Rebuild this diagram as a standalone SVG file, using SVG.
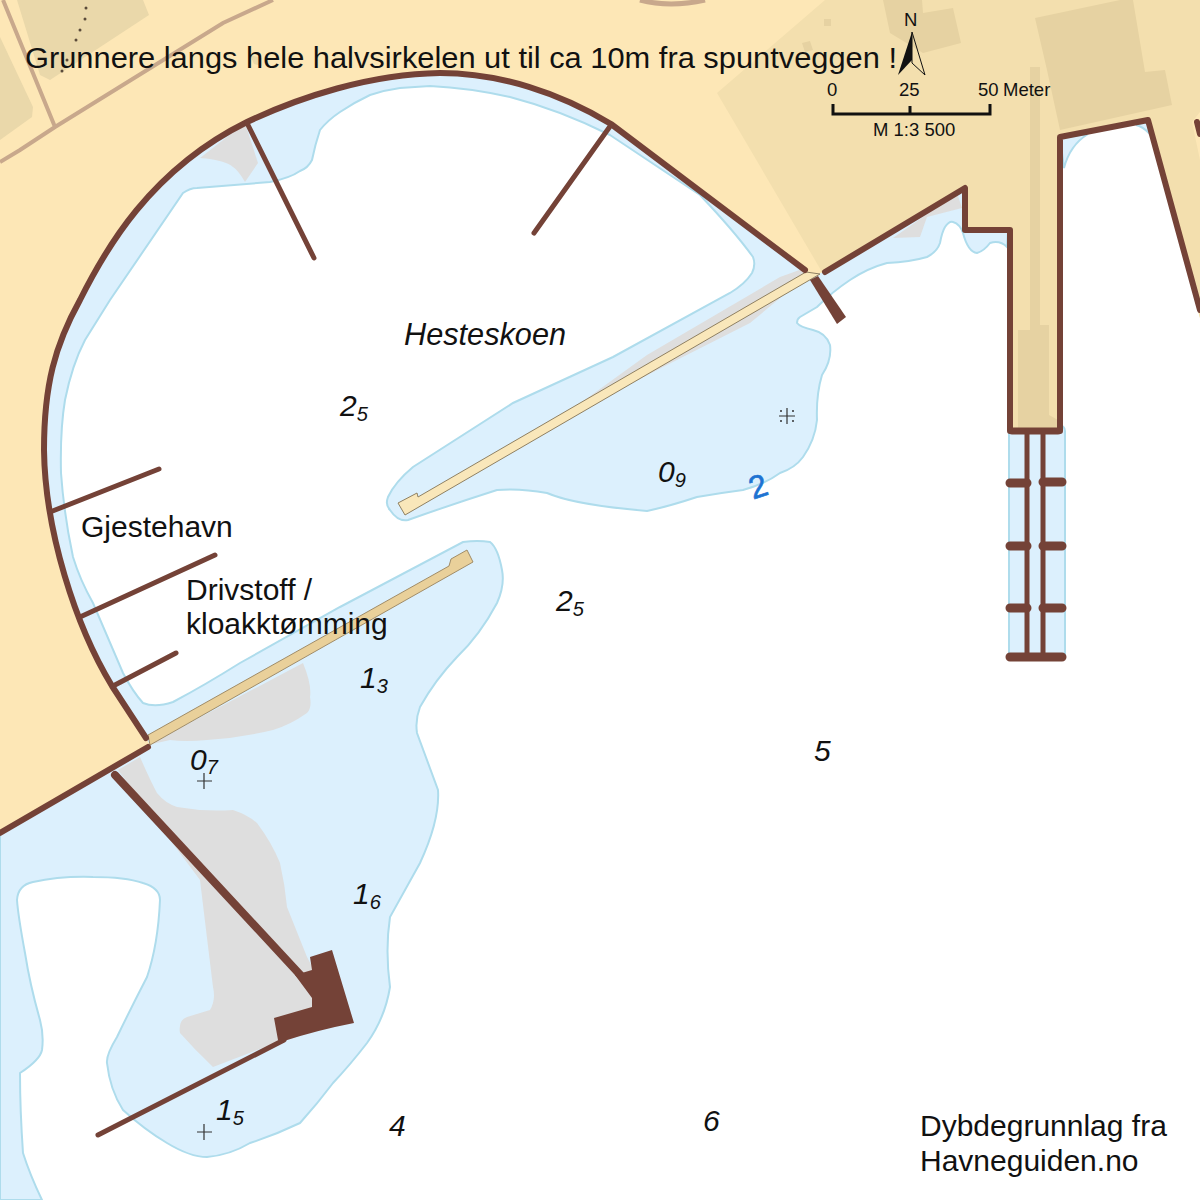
<svg xmlns="http://www.w3.org/2000/svg" width="1200" height="1200" viewBox="0 0 1200 1200">
<style>
text{font-family:"Liberation Sans",Arial,sans-serif;fill:#111}
.i{font-style:italic;font-size:30px}
.s{font-style:italic;font-size:20px}
.l{font-size:30px}
.m{font-size:18.5px}
.w{fill:none;stroke:#744237;stroke-linecap:round;stroke-linejoin:round}
.sh{fill:#dcf0fd;stroke:#aedcec;stroke-width:2}
.g{fill:#dedede}
.b{fill:#e6d2a2}
.d{fill:#5b4b3a}
</style>
<rect width="1200" height="1200" fill="#fff"/>
<!-- shallow water -->
<path class="sh" d="M0 700L0 1200L42 1200Q30 1175 23 1153Q20 1110 20 1073Q40 1060 42 1050Q44 1035 40 1020Q30 985 25 953Q18 915 17 900Q18 885 33 882Q60 876 93 877Q125 877 143 883Q160 888 160 900Q158 945 147 977Q130 1010 117 1037Q106 1055 107 1063Q110 1090 123 1110Q145 1130 167 1143Q190 1157 207 1157Q230 1155 250 1143Q275 1135 300 1123Q318 1103 333 1083Q350 1065 367 1043Q385 1018 390 987Q385 950 390 917Q405 890 420 863Q440 820 438 790Q425 755 417 733Q415 720 420 707Q435 680 457 657Q480 635 497 603Q505 585 502 570Q498 548 490 542Q478 540 463 542L340 607L240 663Q205 685 173 702Q155 708 143 703Q133 692 123 673L93 603Q80 580 73 557Q64 515 61 473Q60 430 65 400Q72 365 85 340L110 300L183 193Q190 188 197 188L270 182Q290 178 300 171Q308 168 312 160Q315 145 320 130Q328 120 340 112Q355 102 370 95Q385 90 400 88L430 86Q470 88 510 97Q560 110 610 135L700 195Q735 232 753 257Q756 265 752 273Q745 284 730 293L613 357L513 403L413 467Q395 482 388 497Q385 505 390 510Q398 522 408 520Q450 505 497 490Q520 488 547 493Q575 505 647 511Q670 506 697 497Q720 493 743 490Q765 484 780 473Q795 468 803 457Q815 440 817 420Q816 395 822 375Q832 360 830 345Q826 333 813 330Q800 327 797 323Q797 319 800 317L817 307Q832 292 850 280Q868 268 887 263Q910 262 927 257Q937 252 940 243Q942 232 945 227Q949 221 953 222Q960 224 963 233Q968 252 977 253Q984 251 990 243Q1000 240 1007 247L1010 200L400 50L100 100L0 300Z"/>
<rect class="sh" x="1009" y="425" width="56" height="235" rx="6"/>
<path class="sh" d="M1060 138L1088 134Q1070 145 1064 168Z"/>
<path class="sh" d="M1136 125L1147 122L1150 134Q1142 126 1136 125Z"/>
<!-- land -->
<path fill="#fde7b6" d="M0 0H1200V318L1148 120L1060 137V431H1010V231H965V188L825 272L808 276L805 270L611 124C560 93 500 73 440 73C370 74 300 97 247 122C150 170 105 250 80 300C55 345 44 385 44 450C45 530 75 625 112 686L146 738L150 745L0 833Z"/>
<path fill="#f3dfae" d="M717 93L825 0H1200V112L1192 122L1200 160V318L1148 120L1060 137V431H1010V231H965V188L822 272Z"/>
<path class="b" d="M883 0H922L923 13L953 8L961 43L923 53L890 33ZM1035 18L1120 0H1133L1145 72L1165 70L1172 105L1060 130L1047 70ZM1030 67H1040V325H1049V415L1058 420V430H1018V330H1030Z"/>
<path fill="#ead8aa" d="M17 0H143L149 15L50 80L40 75ZM0 37L33 107L32 117L0 140Z"/>
<path class="b" d="M824 19L831 19L831 26L824 26ZM802 43L810 41L813 50L805 52Z"/>
<path fill="#ead8aa" d="M250 55L262 58L262 66L254 64Z"/>
<!-- roads -->
<path fill="none" stroke="#c8a88c" stroke-width="4" d="M0 162L20 150L55 127L223 23L273 0M3 0L55 127"/>
<path fill="none" stroke="#c8a88c" stroke-width="5" d="M640 0Q670 8 705 0"/>
<circle class="d" cx="86" cy="8" r="1.5"/><circle class="d" cx="85" cy="19" r="1.5"/><circle class="d" cx="80" cy="30" r="1.5"/><circle class="d" cx="76" cy="40" r="1.5"/><circle class="d" cx="67" cy="60" r="1.5"/><circle class="d" cx="62" cy="71" r="1.5"/>
<!-- gray shoals -->
<path class="g" d="M200 158L245 123L258 163L245 182Q238 170 233 167Q225 160 200 158Z"/>
<path class="g" d="M575 407L647 355L780 277L805 268L808 275L750 323L663 367L613 393Z"/>
<path class="g" d="M148 745L303 663Q312 685 310 697Q312 708 307 713Q290 725 273 730Q240 738 207 740Q185 742 170 740Z"/>
<path class="g" d="M118 770L140 757Q150 780 157 793Q165 803 177 807Q205 812 233 810Q248 815 257 823Q272 843 280 863Q285 885 287 907Q297 932 307 957L330 1000L283 1040L213 1067Q195 1050 180 1033Q178 1020 187 1017L210 1010Q216 1000 213 987Q206 930 200 880Z"/>
<path class="g" d="M893 238L957 193L962 208L927 217L920 237Z"/>
<!-- piers -->
<path fill="#f9e7ba" stroke="#8f8062" stroke-width="1" d="M806 272L418 497L417 493L398 503L405 515L820 274Z"/>
<path fill="#e9d09a" stroke="#a08c68" stroke-width="1" d="M148 735L449 566L451 559L467 550L473 562L150 745Z"/>
<!-- walls -->
<g id="walls">
<path class="w" stroke-width="6" d="M0 833L148 747M146 738L112 686C75 625 45 530 44 450C44 385 55 345 80 300C105 250 150 170 247 122C300 97 370 74 440 73C500 73 560 93 611 124L805 270"/>
<path class="w" stroke-width="5" d="M247 123L314 258M611 125L534 233M50 512L159 469M80 617L215 555M113 686L176 653"/>
<path class="w" stroke-width="6" d="M825 272L965 188V230H1010V431M1060 431V137L1148 120L1200 310M1197 122L1200 134"/>
<path class="w" stroke-width="8" d="M115 775L305 980"/>
<path class="w" stroke-width="5" d="M98 1135L284 1040"/>
<path fill="#744237" d="M810 280L818 276L846 317L837 324Z"/>
<path fill="#744237" d="M310 957L332 950L354 1023Q318 1030 284 1041L278 1040L274 1018L312 1007V998L295 975L312 970Z"/>
<path class="w" stroke-width="7" d="M1012 431H1058"/>
<path class="w" stroke-width="5" d="M1027 431V658M1043 431V658"/>
<path class="w" stroke-width="9" d="M1010 483H1027M1043 482H1062M1010 546H1027M1043 546H1062M1010 608H1027M1043 608H1062M1010 657H1062"/>
</g>
<!-- crosses -->
<path stroke="#333" stroke-width="1.2" d="M197 781H212M204 773V789M197 1132H212M204 1124V1140M779 416H795M787 408V424"/>
<g fill="#333"><circle cx="781" cy="411" r="1"/><circle cx="793" cy="411" r="1"/><circle cx="781" cy="421" r="1"/><circle cx="793" cy="421" r="1"/></g>
<!-- labels -->
<text x="25" y="68" class="l" textLength="872" lengthAdjust="spacingAndGlyphs">Grunnere langs hele halvsirkelen ut til ca 10m fra spuntveggen !</text>
<text x="404" y="345" class="i" style="font-size:30.7px">Hesteskoen</text>
<text x="81" y="537" class="l">Gjestehavn</text>
<text x="186" y="600" class="l">Drivstoff /</text>
<text x="186" y="634" class="l">kloakktømming</text>
<text x="340" y="416" class="i">2<tspan class="s" dy="5">5</tspan></text>
<text x="556" y="611" class="i">2<tspan class="s" dy="5">5</tspan></text>
<text x="658" y="482" class="i">0<tspan class="s" dy="5">9</tspan></text>
<text x="360" y="688" class="i">1<tspan class="s" dy="5">3</tspan></text>
<text x="190" y="770" class="i">0<tspan class="s" dy="4">7</tspan></text>
<text x="353" y="904" class="i">1<tspan class="s" dy="5">6</tspan></text>
<text x="216" y="1120" class="i">1<tspan class="s" dy="5">5</tspan></text>
<text x="814" y="761" class="i">5</text>
<text x="389" y="1136" class="i">4</text>
<text x="703" y="1131" class="i">6</text>
<text x="749" y="497" transform="rotate(-18 759 486)" style="font-size:32px;fill:#1e73d2;stroke:#1e73d2;stroke-width:.6">2</text>
<text x="920" y="1136" class="l">Dybdegrunnlag fra</text>
<text x="920" y="1171" class="l">Havneguiden.no</text>
<!-- north, scale -->
<text x="904" y="26" class="m">N</text>
<path fill="none" stroke="#111" d="M912 32L925 75L912 63Z"/>
<path fill="#111" d="M912 32L898 75L912 60Z"/>
<text x="827" y="96" class="m">0</text>
<text x="899" y="96" class="m">25</text>
<text x="978" y="96" class="m">50</text>
<text x="1003" y="96" class="m">Meter</text>
<text x="873" y="136" class="m">M 1:3 500</text>
<path fill="none" stroke="#111" stroke-width="3" d="M833 104V114H990V104M910 106V114"/>
</svg>
